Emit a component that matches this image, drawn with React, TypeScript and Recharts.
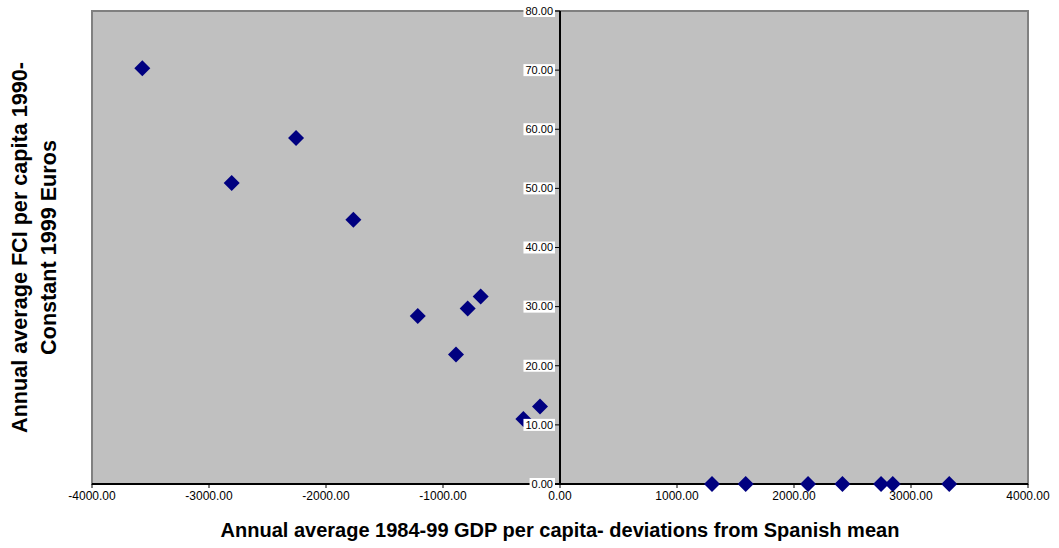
import { ScatterChart, Scatter, XAxis, YAxis, ReferenceArea, ReferenceLine } from "recharts";

// GDP per capita deviation from Spanish mean (x) vs FCI per capita (y)
const gdpDeviation = [-3570, -2806, -2256, -1766, -1216, -889, -789, -678, -313, -171, 1299, 1587, 2120, 2414, 2744, 2844, 3327];
const fciPerCapita = [70.3, 50.9, 58.5, 44.7, 28.4, 21.9, 29.7, 31.7, 11.0, 13.1, 0, 0, 0, 0, 0, 0, 0];
const xTicks = [-4000, -3000, -2000, -1000, 0, 1000, 2000, 3000, 4000];
const yTicks = [0, 10, 20, 30, 40, 50, 60, 70, 80];

const xTitle = "Annual average 1984-99 GDP per capita- deviations from Spanish mean";
const yTitle1 = "Annual average FCI per capita 1990-";
const yTitle2 = "Constant 1999 Euros";

const data = gdpDeviation.map((x, i) => ({ x, y: fciPerCapita[i] }));

const W = 1059;
const H = 548;
const Y_AXIS_W = 4;
const margin = { top: 11, right: 31, left: 92 - Y_AXIS_W, bottom: 0 };
const X_MIN = -4000;
const X_MAX = 4000;
const plotLeft = margin.left + Y_AXIS_W;
const plotW = W - plotLeft - margin.right;
// the value axis crosses at x = 0
const zeroX = plotLeft + (plotW * (0 - X_MIN)) / (X_MAX - X_MIN);

const fmt = (v: number) => Number(v).toFixed(2);

const YTick = (props: any) => {
  const { y, payload } = props;
  const label = fmt(payload.value);
  const w = (label.length - 1) * 6.12 + 3.06 + 4;
  return (
    <g>
      <line x1={zeroX - 5} x2={zeroX} y1={y} y2={y} stroke="#000" />
      <rect x={zeroX - 5 - w} y={y - 6} width={w} height={12} fill="#fff" />
      <text x={zeroX - 7} y={y} dy="0.35em" textAnchor="end" fontSize={11} fill="#000">
        {label}
      </text>
    </g>
  );
};

const Diamond = ({ cx, cy }: any) => (
  <polygon
    points={`${cx},${cy - 8} ${cx + 8},${cy} ${cx},${cy + 8} ${cx - 8},${cy}`}
    fill="#000080"
  />
);

const XTitle = ({ viewBox }: any) => (
  <text
    x={viewBox.x + viewBox.width / 2}
    y={viewBox.y + 53}
    textAnchor="middle"
    fontSize={20}
    fontWeight="bold"
    fill="#000"
  >
    {xTitle}
  </text>
);

const YTitle = ({ viewBox }: any) => {
  const cy = viewBox.y + viewBox.height / 2;
  const x1 = plotLeft - 73;
  const x2 = plotLeft - 44;
  return (
    <g fontSize={21.6} fontWeight="bold" fill="#000">
      <text x={x1} y={cy} dy="0.35em" textAnchor="middle" transform={`rotate(-90, ${x1}, ${cy})`}>
        {yTitle1}
      </text>
      <text x={x2} y={cy} dy="0.35em" textAnchor="middle" transform={`rotate(-90, ${x2}, ${cy})`}>
        {yTitle2}
      </text>
    </g>
  );
};

export default function App() {
  return (
    <div style={{ position: "absolute", left: 0, top: 0, fontFamily: "'Liberation Sans', Arial, sans-serif" }}>
      <ScatterChart width={W} height={H} margin={margin}>
        <ReferenceArea
          x1={X_MIN}
          x2={X_MAX}
          y1={0}
          y2={80}
          fill="#c0c0c0"
          fillOpacity={1}
          stroke="#808080"
          strokeWidth={2}
        />
        <XAxis
          type="number"
          dataKey="x"
          domain={[X_MIN, X_MAX]}
          ticks={xTicks}
          tickFormatter={fmt}
          tick={{ fontSize: 12, fill: "#000" }}
          axisLine={{ stroke: "#000", strokeWidth: 2 }}
          tickLine={{ stroke: "#000" }}
          tickSize={4}
          tickMargin={3}
          height={64}
          allowDataOverflow
          label={<XTitle />}
        />
        <YAxis
          type="number"
          dataKey="y"
          domain={[0, 80]}
          ticks={yTicks}
          width={Y_AXIS_W}
          axisLine={false}
          tickLine={false}
          tick={YTick}
          label={YTitle}
        />
        <ReferenceLine x={0} stroke="#000" strokeWidth={2} />
        <Scatter data={data} shape={<Diamond />} isAnimationActive={false} />
      </ScatterChart>
    </div>
  );
}
